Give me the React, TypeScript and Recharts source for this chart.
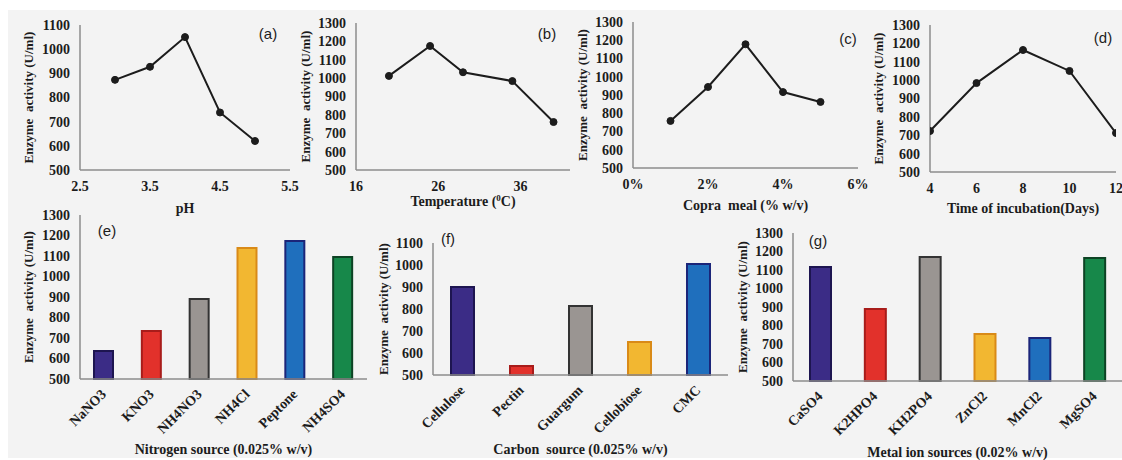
import React from "react";
import { LineChart, Line, BarChart, Bar, Cell, XAxis, YAxis, Label } from "recharts";

const W = 1122;
const H = 460;
const SERIF = "'Liberation Serif', 'Times New Roman', serif";
const SANS = "'Liberation Sans', Arial, sans-serif";
const INK = "#1c1c1c";
const AXIS = "#8c8c8c";

// (a) pH
const phValues = [3, 3.5, 4, 4.5, 5];
const phActivity = [873, 927, 1050, 738, 620];
const phTicks = [2.5, 3.5, 4.5, 5.5];

// (b) temperature
const tempValues = [20, 25, 29, 35, 40];
const tempActivity = [1012, 1175, 1032, 984, 761];
const tempTicks = [16, 26, 36];

// (c) copra meal %
const copraValues = [1, 2, 3, 4, 5];
const copraActivity = [758, 944, 1178, 916, 862];
const copraTicks = [0, 2, 4, 6];

// (d) incubation days
const dayValues = [4, 6, 8, 10, 12];
const dayActivity = [723, 984, 1164, 1050, 712];
const dayTicks = [4, 6, 8, 10, 12];

// (e) nitrogen
const nitrogenSources = ["NaNO3", "KNO3", "NH4NO3", "NH4Cl", "Peptone", "NH4SO4"];
const nitrogenActivity = [637, 734, 890, 1139, 1173, 1095];

// (f) carbon
const carbonSources = ["Cellulose", "Pectin", "Guargum", "Cellobiose", "CMC"];
const carbonActivity = [900, 541, 814, 650, 1005];

// (g) metal ions
const metalSources = ["CaSO4", "K2HPO4", "KH2PO4", "ZnCl2", "MnCl2", "MgSO4"];
const metalActivity = [1116, 889, 1170, 754, 732, 1165];

const ticks1100 = [500, 600, 700, 800, 900, 1000, 1100];
const ticks1300 = [500, 600, 700, 800, 900, 1000, 1100, 1200, 1300];

const purple = { fill: "#3b2c86", stroke: "#1d1550" };
const red = { fill: "#e2312b", stroke: "#a81c1a" };
const gray = { fill: "#9a9592", stroke: "#333333" };
const yellow = { fill: "#f2b731", stroke: "#d98a17" };
const blue = { fill: "#1f6fbd", stroke: "#1b2579" };
const green = { fill: "#17884a", stroke: "#0d4324" };

const nitrogenColors = [purple, red, gray, yellow, blue, green];
const carbonColors = [purple, red, gray, yellow, blue];
const metalColors = [purple, red, gray, yellow, blue, green];

type Box = { x0: number; y0: number; x1: number; y1: number };

const YW = 62;

function frame(b: Box, xh: number) {
  return { left: b.x0 - YW, top: b.y0, right: W - b.x1, bottom: H - b.y1 - xh };
}

const tickFont = { fontFamily: SERIF, fontWeight: 700, fontSize: 14, fill: INK };
const axisLine = { stroke: AXIS, strokeWidth: 1.5 };

function yTitle(x: number, b: Box) {
  const cy = (b.y0 + b.y1) / 2;
  return () => (
    <text
      x={x}
      y={cy}
      transform={`rotate(-90 ${x} ${cy})`}
      textAnchor="middle"
      dominantBaseline="central"
      fontFamily={SERIF}
      fontWeight={700}
      fontSize={13}
      fill={INK}
    >
      {"Enzyme\u00a0 activity (U/ml)"}
    </text>
  );
}

function letter(txt: string, x: number, y: number) {
  return () => (
    <text x={x} y={y} textAnchor="middle" dominantBaseline="central" fontFamily={SANS} fontSize={15} fill={INK}>
      {txt}
    </text>
  );
}

function xTitle(node: React.ReactNode, x: number, y: number) {
  return () => (
    <text x={x} y={y} textAnchor="middle" fontFamily={SERIF} fontWeight={700} fontSize={14} fill={INK}>
      {node}
    </text>
  );
}

type LineProps = {
  box: Box;
  xs: number[];
  ys: number[];
  xDomain: [number, number];
  xTicks: number[];
  yTicks: number[];
  fmt?: (v: number) => string;
  title: React.ReactNode;
  titleY: number;
  yTitleX: number;
  tag: string;
  tagX: number;
  tagY: number;
};

function LinePanel(p: LineProps) {
  const data = p.xs.map((x, i) => ({ x, y: p.ys[i] }));
  const b = p.box;
  return (
    <div style={{ position: "absolute", left: 0, top: 0 }}>
      <LineChart width={W} height={H} data={data} margin={frame(b, 46)}>
        <XAxis
          type="number"
          dataKey="x"
          domain={p.xDomain}
          ticks={p.xTicks}
          interval={0}
          tickFormatter={p.fmt}
          axisLine={axisLine}
          tickLine={false}
          tickSize={0}
          tickMargin={11}
          tick={tickFont}
          height={46}
          allowDataOverflow
        >
          <Label content={xTitle(p.title, (b.x0 + b.x1) / 2, p.titleY)} />
        </XAxis>
        <YAxis
          type="number"
          domain={[p.yTicks[0], p.yTicks[p.yTicks.length - 1]]}
          ticks={p.yTicks}
          interval={0}
          axisLine={axisLine}
          tickLine={false}
          tickSize={0}
          tickMargin={10}
          tick={tickFont}
          width={YW}
        >
          <Label content={yTitle(p.yTitleX, b)} />
          <Label content={letter(p.tag, p.tagX, p.tagY)} />
        </YAxis>
        <Line
          dataKey="y"
          stroke={INK}
          strokeWidth={2}
          dot={{ r: 3.5, fill: INK, stroke: INK, strokeWidth: 1 }}
          isAnimationActive={false}
        />
      </LineChart>
    </div>
  );
}

const RotTick = (props: any) => {
  const { x, y, payload } = props;
  const tx = x + 3;
  const ty = y + 14;
  return (
    <text
      x={tx}
      y={ty}
      transform={`rotate(-45 ${tx} ${ty})`}
      textAnchor="end"
      fontFamily={SERIF}
      fontWeight={700}
      fontSize={14}
      fill={INK}
    >
      {payload.value}
    </text>
  );
};

type BarProps = {
  box: Box;
  names: string[];
  values: number[];
  colors: { fill: string; stroke: string }[];
  yTicks: number[];
  barSize: number;
  title: string;
  titleY: number;
  yTitleX: number;
  tag: string;
  tagX: number;
  tagY: number;
};

function BarPanel(p: BarProps) {
  const data = p.names.map((name, i) => ({ name, v: p.values[i] }));
  const b = p.box;
  return (
    <div style={{ position: "absolute", left: 0, top: 0 }}>
      <BarChart width={W} height={H} data={data} margin={frame(b, 70)}>
        <XAxis
          dataKey="name"
          interval={0}
          axisLine={axisLine}
          tickLine={false}
          tickSize={0}
          tick={<RotTick />}
          height={70}
        >
          <Label content={xTitle(p.title, (b.x0 + b.x1) / 2, p.titleY)} />
        </XAxis>
        <YAxis
          type="number"
          domain={[p.yTicks[0], p.yTicks[p.yTicks.length - 1]]}
          ticks={p.yTicks}
          interval={0}
          axisLine={axisLine}
          tickLine={false}
          tickSize={0}
          tickMargin={10}
          tick={tickFont}
          width={YW}
        >
          <Label content={yTitle(p.yTitleX, b)} />
          <Label content={letter(p.tag, p.tagX, p.tagY)} />
        </YAxis>
        <Bar dataKey="v" barSize={p.barSize} strokeWidth={2} isAnimationActive={false}>
          {data.map((d, i) => (
            <Cell key={d.name} fill={p.colors[i].fill} stroke={p.colors[i].stroke} />
          ))}
        </Bar>
      </BarChart>
    </div>
  );
}

export default function App() {
  return (
    <div style={{ position: "absolute", left: 0, top: 0, width: W, height: H, background: "#ffffff", overflow: "hidden" }}>
      <div style={{ position: "absolute", left: 8, top: 10, right: 0, bottom: 2, background: "#f3f3f3" }} />
      <LinePanel
        box={{ x0: 80, y0: 25, x1: 290, y1: 170 }}
        xs={phValues}
        ys={phActivity}
        xDomain={[2.5, 5.5]}
        xTicks={phTicks}
        yTicks={ticks1100}
        title="pH"
        titleY={213}
        yTitleX={28}
        tag="(a)"
        tagX={268}
        tagY={33}
      />
      <LinePanel
        box={{ x0: 356, y0: 23, x1: 570, y1: 170 }}
        xs={tempValues}
        ys={tempActivity}
        xDomain={[16, 42]}
        xTicks={tempTicks}
        yTicks={ticks1300}
        title={
          <>
            Temperature (<tspan fontSize={9} dy={-5}>0</tspan>
            <tspan dy={5}>C)</tspan>
          </>
        }
        titleY={206}
        yTitleX={305}
        tag="(b)"
        tagX={547}
        tagY={33}
      />
      <LinePanel
        box={{ x0: 633, y0: 22, x1: 858, y1: 168 }}
        xs={copraValues}
        ys={copraActivity}
        xDomain={[0, 6]}
        xTicks={copraTicks}
        yTicks={ticks1300}
        fmt={(v) => `${v}%`}
        title={"Copra\u00a0 meal (% w/v)"}
        titleY={210}
        yTitleX={582}
        tag="(c)"
        tagX={848}
        tagY={38}
      />
      <LinePanel
        box={{ x0: 930, y0: 25, x1: 1116, y1: 172 }}
        xs={dayValues}
        ys={dayActivity}
        xDomain={[4, 12]}
        xTicks={dayTicks}
        yTicks={ticks1300}
        title="Time of incubation(Days)"
        titleY={213}
        yTitleX={878}
        tag="(d)"
        tagX={1103}
        tagY={37}
      />
      <BarPanel
        box={{ x0: 80, y0: 215, x1: 367, y1: 379 }}
        names={nitrogenSources}
        values={nitrogenActivity}
        colors={nitrogenColors}
        yTicks={ticks1300}
        barSize={19}
        title="Nitrogen source (0.025% w/v)"
        titleY={454}
        yTitleX={28}
        tag="(e)"
        tagX={107}
        tagY={230}
      />
      <BarPanel
        box={{ x0: 433, y0: 243, x1: 728, y1: 375 }}
        names={carbonSources}
        values={carbonActivity}
        colors={carbonColors}
        yTicks={ticks1100}
        barSize={23}
        title={"Carbon\u00a0 source (0.025% w/v)"}
        titleY={454}
        yTitleX={383}
        tag="(f)"
        tagX={448}
        tagY={238}
      />
      <BarPanel
        box={{ x0: 793, y0: 233, x1: 1122, y1: 381 }}
        names={metalSources}
        values={metalActivity}
        colors={metalColors}
        yTicks={ticks1300}
        barSize={21}
        title="Metal ion sources (0.02% w/v)"
        titleY={457}
        yTitleX={742}
        tag="(g)"
        tagX={818}
        tagY={240}
      />
    </div>
  );
}
